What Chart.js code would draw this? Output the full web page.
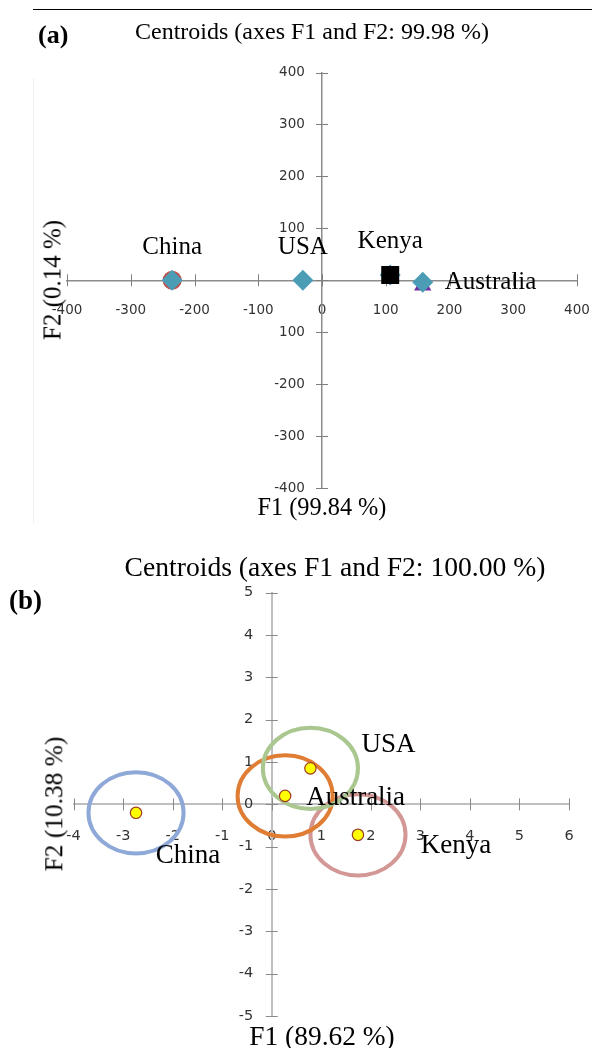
<!DOCTYPE html>
<html>
<head>
<meta charset="utf-8">
<script src="https://cdn.jsdelivr.net/npm/chart.js@4.4.1/dist/chart.umd.min.js"></script>
<style>
  body { margin: 0; background: #fff; }
  #page { position: relative; width: 592px; height: 1048px; overflow: hidden; font-family: 'Liberation Serif', 'Times New Roman', serif; color: #000; }
  canvas { position: absolute; left: 0; }
  .txt { position: absolute; white-space: nowrap; line-height: 1; transform: translate(-50%, -50%); }
  .rot { transform: translate(-50%, -50%) rotate(-90deg); }
  .tag { position: absolute; font-weight: bold; line-height: 1; white-space: nowrap; transform: translateY(-50%); }
</style>
</head>
<body>
<div id="page">
  <div style="position:absolute;left:33px;top:9px;width:559px;height:1px;background:#000"></div>
  <div style="position:absolute;left:33px;top:78px;width:1px;height:445px;background:#efefef"></div>
  <canvas id="chartA" width="592" height="530" style="top:0"></canvas>
  <canvas id="chartB" width="592" height="518" style="top:530px"></canvas>

  <div class="tag" style="left:38px;top:35px;font-size:26px">(a)</div>
  <div class="txt" style="left:312px;top:31px;font-size:24px">Centroids (axes F1 and F2: 99.98 %)</div>
  <div class="txt rot" style="left:52px;top:280px;font-size:25px">F2 (0.14 %)</div>
  <div class="txt" style="left:322px;top:507px;font-size:24.3px">F1 (99.84 %)</div>

  <div class="tag" style="left:9px;top:600px;font-size:27px">(b)</div>
  <div class="txt" style="left:335px;top:567px;font-size:27.6px">Centroids (axes F1 and F2: 100.00 %)</div>
  <div class="txt rot" style="left:54px;top:804px;font-size:25.4px">F2 (10.38 %)</div>
  <div class="txt" style="left:322px;top:1037px;font-size:27.4px">F1 (89.62 %)</div>
</div>
<script>
// (a) centroids, discriminant axes F1 / F2
var countriesA = ['China', 'USA', 'Kenya', 'Australia'];
var f1A = [-235, -30, 107, 158];
var f2A = [0, 0, 10, -4];
var australiaMarkA = { x: 158, y: -10 };
var xTicksA = ['-400', '-300', '-200', '-100', '0', '100', '200', '300', '400'];
var yTicksA = ['-400', '-300', '-200', '100', '0', '100', '200', '300', '400'];

// (b) centroids with their circles
var countriesB = ['China', 'Australia', 'USA', 'Kenya'];
var f1B = [-2.74, 0.27, 0.78, 1.74];
var f2B = [-0.20, 0.20, 0.85, -0.72];
var circleRadiusB = [0.96, 0.96, 0.96, 0.96];
var xTicksB = ['-4', '-3', '-2', '-1', '0', '1', '2', '3', '4', '5', '6'];
var yTicksB = ['-5', '-4', '-3', '-2', '-1', '0', '1', '2', '3', '4', '5'];

// tick marks crossing the axis line on both sides
var crossTicks = {
    id: 'crossTicks',
    beforeDatasetsDraw: function (chart, args, opts) {
        var ctx = chart.ctx;
        var x = chart.scales.x, y = chart.scales.y;
        var x0 = x.getPixelForValue(0), y0 = y.getPixelForValue(0);
        ctx.save();
        ctx.strokeStyle = opts.color;
        ctx.lineWidth = 1;
        ctx.beginPath();
        x.ticks.forEach(function (t) {
            var px = Math.round(x.getPixelForValue(t.value)) + 0.5;
            ctx.moveTo(px, y0 - opts.len);
            ctx.lineTo(px, y0 + opts.len);
        });
        y.ticks.forEach(function (t) {
            var py = Math.round(y.getPixelForValue(t.value)) + 0.5;
            ctx.moveTo(x0 - opts.len, py);
            ctx.lineTo(x0 + opts.len, py);
        });
        ctx.stroke();
        ctx.restore();
    }
};

var circles = {
    id: 'circles',
    beforeDatasetsDraw: function (chart, args, opts) {
        if (!opts.colors) return;
        var ctx = chart.ctx;
        var x = chart.scales.x, y = chart.scales.y;
        ctx.save();
        ctx.lineWidth = opts.width;
        opts.order.forEach(function (i) {
            var cx = x.getPixelForValue(f1B[i]);
            var cy = y.getPixelForValue(f2B[i]);
            var rx = Math.abs(x.getPixelForValue(f1B[i] + circleRadiusB[i]) - cx);
            var ry = Math.abs(y.getPixelForValue(f2B[i] + circleRadiusB[i]) - cy);
            ctx.beginPath();
            ctx.ellipse(cx, cy, rx, ry, 0, 0, Math.PI * 2);
            ctx.strokeStyle = opts.colors[i];
            ctx.stroke();
        });
        ctx.restore();
    }
};

var pointNames = {
    id: 'pointNames',
    afterDatasetsDraw: function (chart, args, opts) {
        var ctx = chart.ctx;
        var meta = chart.getDatasetMeta(opts.dataset);
        ctx.save();
        ctx.font = opts.font;
        ctx.fillStyle = '#000';
        ctx.textBaseline = 'middle';
        meta.data.forEach(function (pt, i) {
            var o = opts.offsets[i];
            ctx.textAlign = o[2] || 'center';
            ctx.fillText(opts.names[i], pt.x + o[0], pt.y + o[1]);
        });
        ctx.restore();
    }
};

// a centred axis; gap = distance from the axis line to the labels
function axis(min, max, pos, labels, tickFont, gap, lineColor, lineWidth) {
    var vertical = pos.x !== undefined;
    return {
        type: 'linear',
        min: min,
        max: max,
        position: pos,
        ticks: {
            stepSize: (max - min) / (labels.length - 1),
            autoSkip: false,
            padding: 0,
            color: '#333',
            font: { family: 'DejaVu Sans', size: tickFont },
            callback: function (v, i) { return vertical ? labels[i] + '    ' : labels[i]; }
        },
        grid: { display: true, drawOnChartArea: false, drawTicks: true, tickLength: vertical ? 6 : gap, tickColor: 'rgba(0,0,0,0)' },
        border: { display: true, color: lineColor, width: lineWidth }
    };
}

var ptsA = countriesA.map(function (c, i) { return { x: f1A[i], y: f2A[i] }; });

var scalesA = {
    x: axis(-400, 400, { y: 0 }, xTicksA, 13.5, 22, '#8c8c8c', 1.5),
    y: axis(-400, 400, { x: 0 }, yTicksA, 13.5, 0, '#8c8c8c', 1.5)
};
scalesA.y.z = 1;

var graficoA = new Chart(document.getElementById('chartA'), {
    type: 'scatter',
    data: {
        datasets: [
            { label: 'Kenya', data: [ptsA[2]], pointStyle: 'rect', pointRadius: 12.7, backgroundColor: '#000', borderColor: '#000', borderWidth: 0 },
            { label: 'Centroids', data: ptsA, pointStyle: 'rectRot', pointRadius: 10.5, backgroundColor: '#4A9DB5', borderColor: '#4A9DB5', borderWidth: 0 },
            { label: 'Australia', data: [australiaMarkA], pointStyle: 'triangle', pointRadius: 10, backgroundColor: '#7030A0', borderColor: '#7030A0', borderWidth: 0 },
            { label: 'China', data: [ptsA[0]], pointStyle: 'circle', pointRadius: 9.5, backgroundColor: '#C0504D', borderColor: '#C0504D', borderWidth: 0 }
        ]
    },
    options: {
        responsive: false,
        animation: false,
        layout: { padding: { left: 67, right: 15, top: 72.5, bottom: 42 } },
        scales: scalesA,
        plugins: {
            legend: { display: false },
            tooltip: { enabled: false },
            crossTicks: { len: 6, color: '#7f7f7f' },
            pointNames: {
                dataset: 1,
                names: countriesA,
                font: '25px "Liberation Serif"',
                offsets: [[0, -33], [0, -33], [0, -34], [22, 0, 'left']]
            }
        }
    },
    plugins: [crossTicks, circles, pointNames]
});

var ptsB = countriesB.map(function (c, i) { return { x: f1B[i], y: f2B[i] }; });

var graficoB = new Chart(document.getElementById('chartB'), {
    type: 'scatter',
    data: {
        datasets: [
            { label: 'Centroids', data: ptsB, pointStyle: 'circle', pointRadius: 5.7, backgroundColor: '#FFFF00', borderColor: '#9E3B23', borderWidth: 1.2 }
        ]
    },
    options: {
        responsive: false,
        animation: false,
        layout: { padding: { left: 73.6, right: 23, top: 62.7, bottom: 32 } },
        scales: {
            x: axis(-4, 6, { y: 0 }, xTicksB, 14.5, 23, '#bfbfbf', 2),
            y: axis(-5, 5, { x: 0 }, yTicksB, 14.5, 0, '#bfbfbf', 2)
        },
        plugins: {
            legend: { display: false },
            tooltip: { enabled: false },
            crossTicks: { len: 6, color: '#8a8a8a' },
            circles: {
                width: 4,
                colors: ['#8EA9D8', '#E07D35', '#A9C78F', '#D39896'],
                order: [0, 3, 1, 2]
            },
            pointNames: {
                dataset: 0,
                names: countriesB,
                font: '27px "Liberation Serif"',
                offsets: [[52, 43], [21, 2, 'left'], [78, -23], [98, 11]]
            }
        }
    },
    plugins: [crossTicks, circles, pointNames]
});
</script>
</body>
</html>
